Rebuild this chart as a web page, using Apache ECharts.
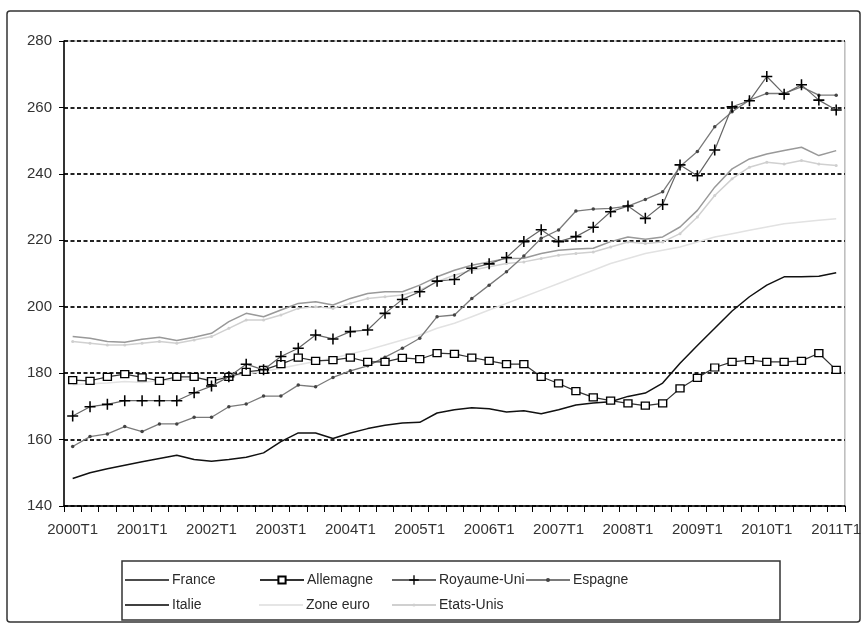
<!DOCTYPE html>
<html>
<head>
<meta charset="utf-8">
<script src="https://cdn.jsdelivr.net/npm/echarts@6/dist/echarts.min.js"></script>
<style>
html,body{margin:0;padding:0;background:#fff;}
#chart{width:864px;height:623px;}
</style>
</head>
<body>
<div id="chart"></div>
<script>
const categories = ['2000T1','2000T2','2000T3','2000T4','2001T1','2001T2','2001T3','2001T4','2002T1','2002T2','2002T3','2002T4','2003T1','2003T2','2003T3','2003T4','2004T1','2004T2','2004T3','2004T4','2005T1','2005T2','2005T3','2005T4','2006T1','2006T2','2006T3','2006T4','2007T1','2007T2','2007T3','2007T4','2008T1','2008T2','2008T3','2008T4','2009T1','2009T2','2009T3','2009T4','2010T1','2010T2','2010T3','2010T4','2011T1'];
const yTicks = [140,160,180,200,220,240,260,280];

const france = [148.3,150,151.2,152.3,153.3,154.3,155.3,154,153.5,154,154.7,156,159.4,162,162,160.3,162,163.3,164.3,165,165.2,168,169,169.6,169.3,168.3,168.7,167.8,169,170.4,171,171.4,173,174,177,183,188.3,193.5,198.7,203,206.5,209,209,209.2,210.2];
const allemagne = [177.9,177.7,178.9,179.7,178.7,177.7,178.9,178.9,177.6,178.9,180.4,181,182.7,184.7,183.7,183.9,184.7,183.4,183.4,184.6,184.2,186,185.8,184.7,183.7,182.7,182.7,178.9,176.9,174.6,172.7,171.7,170.9,170.2,170.9,175.4,178.6,181.7,183.4,183.9,183.4,183.4,183.7,186,181];
const royaumeUni = [167.1,169.9,170.6,171.7,171.7,171.7,171.7,174.1,176.1,178.9,182.7,181,185,187.5,191.5,190.3,192.5,193,198,202.2,204.5,207.7,208.2,211.6,212.9,214.8,219.6,223.2,219.6,221.1,223.9,228.6,230.3,226.6,230.8,242.7,239.4,247.2,260.2,262,269.3,264,266.8,262.2,259.2];
const espagne = [157.9,160.9,161.7,163.9,162.4,164.7,164.7,166.7,166.7,169.9,170.7,173.1,173.1,176.4,175.9,178.7,180.7,182.2,184.8,187.5,190.5,197,197.5,202.5,206.5,210.5,215.3,220.6,223.1,228.8,229.4,229.6,230.3,232.3,234.6,242.2,246.7,254.2,258.7,262.2,264.2,264.2,266.2,263.7,263.7];
const italie = [191,190.5,189.5,189.3,190.2,190.8,189.8,190.8,192,195.5,198,197,199,201,201.5,200.5,202.5,204,204.5,204.5,206.5,209,211,212.5,213.5,214.5,214.6,216,217,217.4,217.6,219.6,221,220.3,221,224,229,236,241.5,244.5,246,247,248,245.5,247];
const zoneEuro = [176.5,176.8,177,177.5,177.2,177.8,178,178.2,178.5,179,179.8,180.5,181.5,182.5,183.5,184.5,185.8,187,188.5,190,191.5,193.5,195,197,199,201,203,205,207,209,211,213,214.5,216,217,218,219.5,221,222,223,224,225,225.5,226,226.5];
const etatsUnis = [189.5,189,188.5,188.5,189,189.5,189,190,191,193.5,196,196,197.5,199.5,200,199.5,201,202.5,203,203.5,205,207.5,209.5,211,212,213,213.5,214.5,215.5,216,216.5,218,219.5,219,219.5,222,227,233.5,238.5,242,243.5,243,244,243,242.5];

const FONT = 'Liberation Sans, Arial, sans-serif';
const plusPath = 'path://M4.3,0H5.7V4.3H10V5.7H5.7V10H4.3V5.7H0V4.3H4.3Z';

const chart = echarts.init(document.getElementById('chart'), null, {renderer:'canvas'});

function leg(name, left, centerY, itemH, extra) {
  const d = Object.assign({name: name}, extra || {});
  return {
    data: [d], left: left, top: centerY - 8, padding: 0,
    itemWidth: 44, itemHeight: itemH, itemGap: 0,
    textStyle: {fontFamily: FONT, fontSize: 14, color: '#2a2a2a', padding:[0,0,0,-2], lineHeight:16, height:16},
    selectedMode: false
  };
}

chart.setOption({
  animation: false,
  backgroundColor: '#fff',
  grid: {left: 64, right: 12, top: 41, bottom: 117, show: true, borderColor: '#999', borderWidth: 1, backgroundColor: 'transparent'},
  graphic: [
    {type:'rect', shape:{x:7, y:11, width:853, height:611, r:3}, style:{fill:'none', stroke:'#333', lineWidth:1.5}, z:-1},
    {type:'rect', shape:{x:122, y:561, width:658, height:59}, style:{fill:'none', stroke:'#333', lineWidth:1.5}, z:-1}
  ],
  legend: [
    leg('France', 125, 580, 1.5, {icon:'rect', itemStyle:{color:'#111'}}),
    leg('Allemagne', 259, 580, 9),
    leg('Royaume-Uni', 391, 580, 12),
    leg('Espagne', 525, 580, 5),
    leg('Italie', 125, 605, 1.5, {icon:'rect', itemStyle:{color:'#000'}}),
    leg('Zone euro', 259, 605, 1.5, {icon:'rect', itemStyle:{color:'#dcdcdc'}}),
    leg('Etats-Unis', 391, 605, 4)
  ],
  xAxis: {
    type: 'category', data: categories, boundaryGap: true,
    axisLine: {lineStyle: {color: '#000', width: 1.5}},
    axisTick: {show: true, interval: 0, length: 6, lineStyle: {color: '#000', width: 1}},
    axisLabel: {interval: 3, margin: 16, fontFamily: FONT, fontSize: 15, color: '#333'},
    splitLine: {show: false}
  },
  yAxis: {
    type: 'value', min: 140, max: 280, interval: 20,
    axisLine: {show: true, lineStyle: {color: '#000', width: 1.5}},
    axisTick: {show: true, length: 5, lineStyle: {color: '#000'}},
    axisLabel: {margin: 12, fontFamily: FONT, fontSize: 15, color: '#333',
      formatter: function(v){ return yTicks.indexOf(v) >= 0 ? String(v) : ''; }},
    splitLine: {show: true, lineStyle: {color: '#222', width: 2, type: [4, 2.5]}}
  },
  series: [
    {name:'Zone euro', type:'line', data: zoneEuro, symbol:'none', z:1,
      lineStyle:{color:'#e2e2e2', width:1.5}, itemStyle:{color:'#e2e2e2'}},
    {name:'Etats-Unis', type:'line', data: etatsUnis, symbol:'circle', symbolSize:3, showSymbol:true, z:1,
      lineStyle:{color:'#d0d0d0', width:1.5}, itemStyle:{color:'#cfcfcf'}},
    {name:'Italie', type:'line', data: italie, symbol:'none', z:2,
      lineStyle:{color:'#999', width:1.5}, itemStyle:{color:'#999'}},
    {name:'France', type:'line', data: france, symbol:'none', z:3,
      lineStyle:{color:'#111', width:1.5}, itemStyle:{color:'#111'}},
    {name:'Espagne', type:'line', data: espagne, symbol:'circle', symbolSize:3.5, z:3,
      lineStyle:{color:'#7a7a7a', width:1.3}, itemStyle:{color:'#444'}},
    {name:'Allemagne', type:'line', data: allemagne, symbol:'rect', symbolSize:[8,7], z:4,
      lineStyle:{color:'#333', width:1.2}, itemStyle:{color:'#fff', borderColor:'#000', borderWidth:1.3}},
    {name:'Royaume-Uni', type:'line', data: royaumeUni, symbol: plusPath, symbolSize:11, z:5,
      lineStyle:{color:'#666', width:1.2}, itemStyle:{color:'#000'}}
  ]
});
</script>
</body>
</html>
